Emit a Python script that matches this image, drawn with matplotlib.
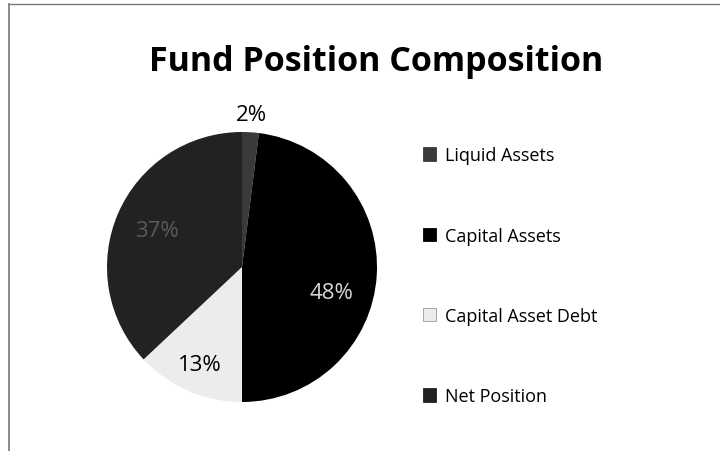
import numpy as np
import matplotlib
matplotlib.use("Agg")
from matplotlib import pyplot as plt
from matplotlib.patches import Patch
from matplotlib.lines import Line2D

# 数据
categories = ["Liquid Assets", "Capital Assets", "Capital Asset Debt", "Net Position"]
shares = [2, 48, 13, 37]
colors = ["#3a3a3a", "#000000", "#ececec", "#222222"]
label_colors = ["#000000", "#d8d8d8", "#000000", "#5a5a5a"]

plt.rcParams['font.family'] = ['Open Sans', 'DejaVu Sans']

fig = plt.figure(figsize=(7.2, 4.52), dpi=100)

# 饼图区域，中心约 (242, 268)，半径约 135 px
ax = fig.add_axes([107 / 720, 49 / 452, 270 / 720, 270 / 452])
wedges, _ = ax.pie(shares, colors=colors, startangle=90, counterclock=False,
                   radius=1.0, wedgeprops=dict(linewidth=0))
ax.set_xlim(-1, 1)
ax.set_ylim(-1, 1)
ax.set_aspect('equal')
ax.axis('off')

# 百分比标签：按扇区中角放置，个别再调
label_r = [1.13, 0.69, 0.79, 0.69]
angle_shift = [0, -12, 0, 0]
for w, s, r, da, c in zip(wedges, shares, label_r, angle_shift, label_colors):
    mid = np.deg2rad((w.theta1 + w.theta2) / 2 + da)
    ax.text(r * np.cos(mid), r * np.sin(mid), "%d%%" % s, color=c,
            ha='center', va='center', fontsize=16)

fig.text(0.522, 0.862, "Fund Position Composition", ha='center', va='center',
         fontsize=24.5, fontweight='bold')

handles = [Patch(facecolor=c, edgecolor='#999999' if c == "#ececec" else c,
                 linewidth=0.6) for c in colors]
fig.legend(handles, categories, loc='upper left', bbox_to_anchor=(0.577, 0.69),
           frameon=False, fontsize=13, handlelength=0.75, handleheight=0.75,
           handletextpad=0.5, labelspacing=3.45, borderaxespad=0)

# 外框（扫描件只见左边和上边）
fig.add_artist(Line2D([9 / 720, 9 / 720], [0, 1 - 5 / 452], color='#777777', lw=1.2))
fig.add_artist(Line2D([9 / 720, 1], [1 - 5 / 452, 1 - 5 / 452], color='#777777', lw=1.0))

fig.savefig("out.png", dpi=100)
